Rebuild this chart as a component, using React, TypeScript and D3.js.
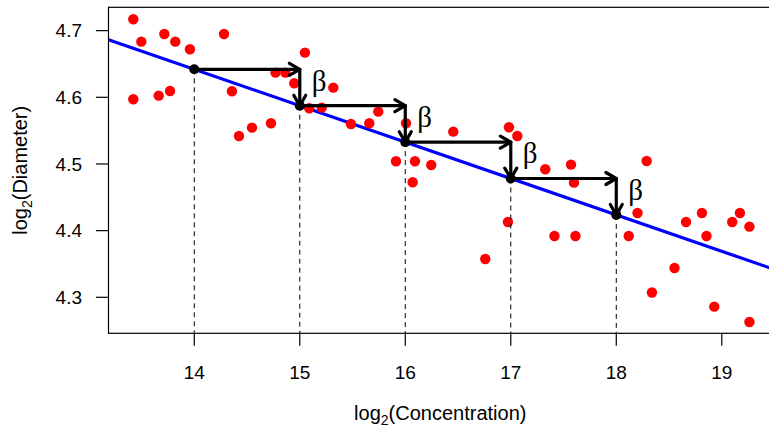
import React from "react";
import * as d3 from "d3";

const concentration = [
  13.422, 13.498, 13.716, 13.82, 13.959, 14.282, 13.422, 13.663, 13.77, 14.357,
  14.424, 14.547, 14.727, 14.77, 14.864, 15.049, 14.948, 15.318, 15.09, 15.208,
  15.485, 15.659, 15.744, 16.007, 15.912, 16.092, 16.246, 16.07, 16.455, 16.983,
  17.062, 17.327, 17.571, 17.599, 16.973, 17.414, 17.613, 16.758, 18.288, 18.201,
  18.118, 18.661, 18.812, 18.855, 19.099, 19.172, 19.262, 18.552, 18.338, 18.929,
  19.262,
];
const diameter = [
  4.717, 4.6835, 4.695, 4.6835, 4.672, 4.695, 4.597, 4.6025, 4.6095, 4.609,
  4.542, 4.5545, 4.561, 4.637, 4.637, 4.667, 4.621, 4.6145, 4.5836, 4.5845,
  4.56, 4.561, 4.5785, 4.561, 4.504, 4.504, 4.4985, 4.4725, 4.5485, 4.555,
  4.542, 4.492, 4.499, 4.472, 4.413, 4.392, 4.392, 4.3575, 4.5045, 4.4265,
  4.392, 4.413, 4.4265, 4.392, 4.413, 4.4265, 4.406, 4.344, 4.3072, 4.286,
  4.263,
];
const xTicks = [14, 15, 16, 17, 18, 19];
const yTicks = [4.3, 4.4, 4.5, 4.6, 4.7];
const stepX = [14, 15, 16, 17, 18];
const fitAt14 = 4.642;
const slope = -0.0546;

const W = 769;
const H = 429;
const L = 108.5, R = 772, T = 7.3, B = 333.3;

export default function App() {
  const x = d3.scaleLinear().domain([13.187, 19.476]).range([L, R]);
  const y = d3.scaleLinear().domain([4.246, 4.735]).range([B, T]);
  const fit = (v: number) => fitAt14 + slope * (v - 14);
  const line = d3.line<number>().x((d) => x(d)).y((d) => y(fit(d)));
  const [x0, x1] = x.domain();
  const font = "'Liberation Sans', Arial, Helvetica, sans-serif";
  const hl = 10.4, hw = 6;

  return (
    <svg
      width={W}
      height={H}
      style={{ position: "fixed", left: 0, top: 0, background: "#fff" }}
    >
      <defs>
        <clipPath id="plot">
          <rect x={L} y={T} width={R - L} height={B - T} />
        </clipPath>
      </defs>
      <rect x={0} y={0} width={W} height={H} fill="#fff" />
      <g clipPath="url(#plot)">
        <path d={line([x0, x1]) || ""} stroke="#0000ff" strokeWidth={3.2} fill="none" />
        {concentration.map((c, i) => (
          <circle key={i} cx={x(c)} cy={y(diameter[i])} r={5.2} fill="#ff0000" />
        ))}
        {stepX.map((s) => (
          <line
            key={"d" + s}
            x1={x(s)}
            x2={x(s)}
            y1={y(fit(s))}
            y2={B}
            stroke="#000"
            strokeWidth={1}
            strokeDasharray="5,4"
          />
        ))}
        {stepX.slice(0, -1).map((s, i) => {
          const n = stepX[i + 1];
          const xa = x(s), xb = x(n), ya = y(fit(s)), yb = y(fit(n));
          return (
            <g key={"a" + s} stroke="#000" strokeWidth={3.2} fill="none" strokeLinecap="round" strokeLinejoin="round">
              <path d={`M${xa},${ya}L${xb},${ya}`} />
              <path d={`M${xb - hl},${ya - hw}L${xb},${ya}L${xb - hl},${ya + hw}`} />
              <path d={`M${xb},${ya}L${xb},${yb}`} />
              <path d={`M${xb - hw},${yb - hl}L${xb},${yb}L${xb + hw},${yb - hl}`} />
            </g>
          );
        })}
        {stepX.map((s) => (
          <circle key={"b" + s} cx={x(s)} cy={y(fit(s))} r={5} fill="#000" />
        ))}
        {stepX.slice(1).map((s, i) => {
          const p = stepX[i];
          const ym = (y(fit(p)) + y(fit(s))) / 2;
          return (
            <text
              key={"beta" + s}
              x={x(s) + 12}
              y={ym + 3}
              fontFamily="'Liberation Serif', 'Times New Roman', serif"
              fontSize={29}
              fill="#000"
            >
              β
            </text>
          );
        })}
      </g>
      <rect x={L} y={T} width={R - L} height={B - T} fill="none" stroke="#000" strokeWidth={1.2} />
      {xTicks.map((t) => (
        <g key={"xt" + t}>
          <line x1={x(t)} x2={x(t)} y1={B} y2={B + 12.5} stroke="#000" strokeWidth={1.2} />
          <text x={x(t)} y={379} textAnchor="middle" fontFamily={font} fontSize={19} fill="#000">
            {t}
          </text>
        </g>
      ))}
      {yTicks.map((t) => (
        <g key={"yt" + t}>
          <line x1={L} x2={L - 12.5} y1={y(t)} y2={y(t)} stroke="#000" strokeWidth={1.2} />
          <text x={82} y={y(t) + 6.7} textAnchor="end" fontFamily={font} fontSize={19} fill="#000">
            {t.toFixed(1)}
          </text>
        </g>
      ))}
      <text x={(L + R) / 2} y={420} textAnchor="middle" fontFamily={font} fontSize={20} fill="#000">
        log<tspan fontSize={14} dy={5}>2</tspan>
        <tspan dy={-5}>(Concentration)</tspan>
      </text>
      <text
        transform={`translate(27,${(T + B) / 2}) rotate(-90)`}
        textAnchor="middle"
        fontFamily={font}
        fontSize={20}
        fill="#000"
      >
        log<tspan fontSize={14} dy={5}>2</tspan>
        <tspan dy={-5}>(Diameter)</tspan>
      </text>
    </svg>
  );
}
